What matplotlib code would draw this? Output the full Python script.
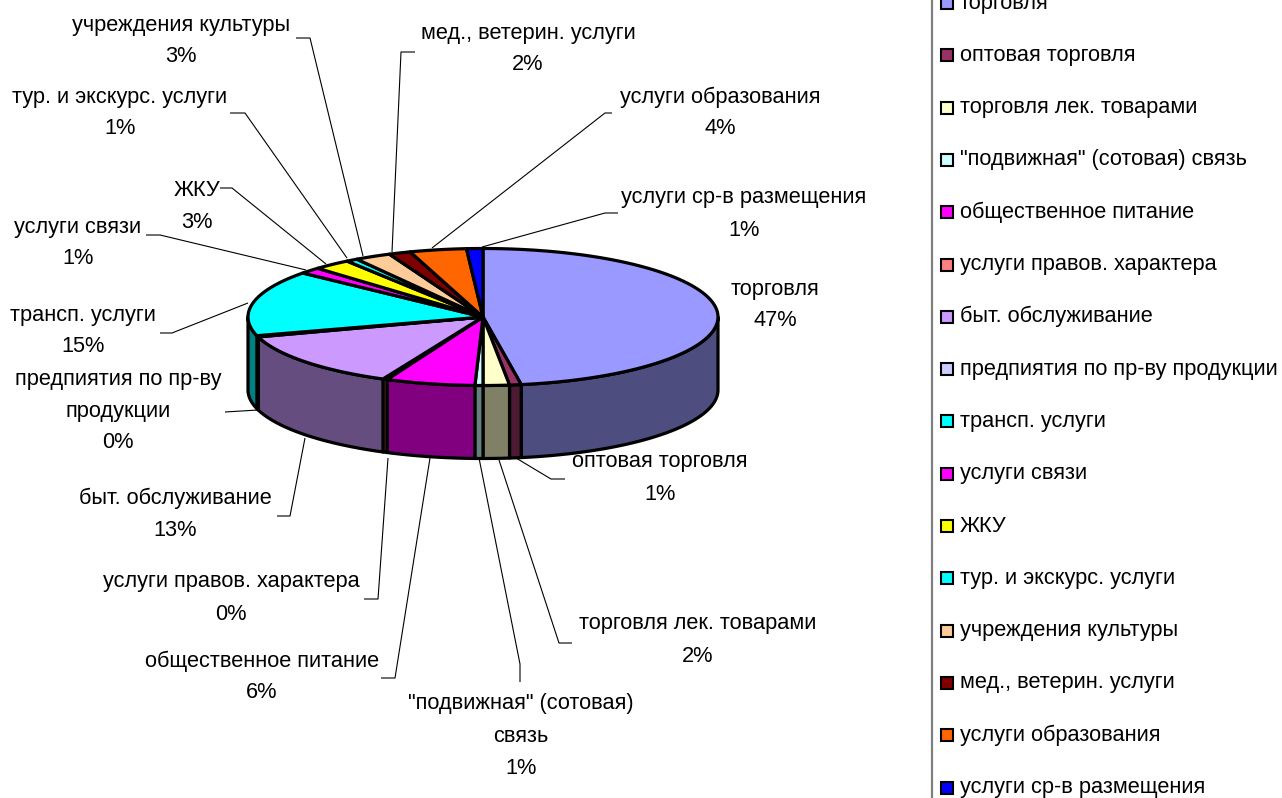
#!/usr/bin/env python3
import numpy as np
import matplotlib
matplotlib.use("Agg")
import matplotlib.pyplot as plt
from matplotlib.patches import Polygon, Rectangle

categories = ["торговля", "оптовая торговля", "торговля лек. товарами",
              "\"подвижная\" (сотовая) связь", "общественное питание",
              "услуги правов. характера", "быт. обслуживание",
              "предпиятия по пр-ву продукции", "трансп. услуги", "услуги связи",
              "ЖКУ", "тур. и экскурс. услуги", "учреждения культуры",
              "мед., ветерин. услуги", "услуги образования", "услуги ср-в размещения"]
values = [47.4, 0.8, 1.8, 0.55, 6.15, 0.3, 13.3, 0.3, 15.49, 1.49, 2.6, 0.8, 2.5, 1.5, 3.9, 1.12]
colors = ["#9999FF", "#993366", "#FFFFCC", "#CCFFFF", "#FF00FF", "#FF8080", "#CC99FF", "#CCCCFF",
          "#00FFFF", "#FF00FF", "#FFFF00", "#00FFFF", "#FFCC99", "#800000", "#FF6600", "#0000FF"]
percent_labels = ["47%", "1%", "2%", "1%", "6%", "0%", "13%", "0%",
                  "15%", "1%", "3%", "1%", "3%", "2%", "4%", "1%"]

# label text split in lines, centre x, first line y
label_lines = [["торговля"], ["оптовая торговля"], ["торговля лек. товарами"],
               ["\"подвижная\" (сотовая)", "связь"], ["общественное питание"],
               ["услуги правов. характера"], ["быт. обслуживание"],
               ["предпиятия по пр-ву", "продукции"], ["трансп. услуги"], ["услуги связи"],
               ["ЖКУ"], ["тур. и экскурс. услуги"], ["учреждения культуры"],
               ["мед., ветерин. услуги"], ["услуги образования"], ["услуги ср-в размещения"]]
label_x = [775, 660, 698, 521, 262, 231, 175, 118, 83, 78, 197, 120, 181, 528, 720, 744]
label_y = [289, 462, 624, 704, 661, 582, 498, 379, 315, 227, 190, 97, 25, 33, 97, 198]

leaders = [None,
           [(565, 479), (551, 479), (516, 458)],
           [(572, 643), (559, 643), (499, 460)],
           [(520, 682), (520, 664), (479, 458)],
           [(381, 678), (395, 678), (430, 458)],
           [(364, 599), (378, 599), (388, 458)],
           [(277, 516), (290, 516), (305, 438)],
           [(225, 412), (258, 410)],
           [(160, 333), (172, 333), (248, 303)],
           [(146, 235), (160, 235), (306, 270)],
           [(220, 188), (232, 188), (326, 264)],
           [(230, 113), (245, 113), (347, 258)],
           [(296, 38), (310, 38), (363, 256)],
           [(415, 52), (401, 52), (392, 252)],
           [(612, 113), (605, 113), (432, 248)],
           [(618, 213), (605, 213), (482, 247)]]

cx, cy, rx, ry, depth = 483, 317, 235, 68.5, 73

legend_x = 941
legend_top = 3
legend_step = 52.3

plt.rcParams["font.family"] = ["Liberation Sans", "DejaVu Sans"]
fontsize = 15.7

fig = plt.figure(figsize=(12.82, 7.98), dpi=100)
ax = fig.add_axes([0, 0, 1, 1])
ax.set_xlim(0, 1282)
ax.set_ylim(798, 0)
ax.axis("off")


def rim(t, drop=0):
    # t is clockwise from the top of the ellipse, in radians
    return np.column_stack([cx + rx * np.sin(t), cy - ry * np.cos(t) + drop])


shares = np.array(values) / sum(values)
edges = np.concatenate([[0], np.cumsum(shares)]) * 2 * np.pi

# side walls first
for i in range(len(values)):
    a = max(edges[i], np.pi / 2)
    b = min(edges[i + 1], 3 * np.pi / 2)
    if b <= a:
        continue
    t = np.linspace(a, b, 60)
    wall = np.vstack([rim(t), rim(t[::-1], depth)])
    rgb = np.array(matplotlib.colors.to_rgb(colors[i])) * 0.5
    ax.add_patch(Polygon(wall, closed=True, facecolor=rgb, edgecolor="black", linewidth=2.3, joinstyle="round"))

# top of the pie
for i in range(len(values)):
    t = np.linspace(edges[i], edges[i + 1], 100)
    top = np.vstack([[cx, cy], rim(t)])
    ax.add_patch(Polygon(top, closed=True, facecolor=colors[i], edgecolor="black", linewidth=2.3, joinstyle="round"))

# leader lines and labels
for i in range(len(values)):
    if leaders[i] is not None:
        pts = np.array(leaders[i])
        ax.plot(pts[:, 0], pts[:, 1], color="black", linewidth=0.8, solid_capstyle="butt")
    lines = label_lines[i] + [percent_labels[i]]
    for j, line in enumerate(lines):
        ax.text(label_x[i], label_y[i] + j * 32, line, ha="center", va="center",
                fontsize=fontsize, color="black")

# legend
ax.plot([932, 932], [0, 798], color="#808080", linewidth=1.6)
for i, name in enumerate(categories):
    y = legend_top + i * legend_step
    ax.add_patch(Rectangle((legend_x, y - 6), 12, 12, facecolor=colors[i], edgecolor="black", linewidth=1.5))
    ax.text(960, y, name, ha="left", va="center", fontsize=fontsize, color="black")

fig.savefig("out.png", dpi=100)
